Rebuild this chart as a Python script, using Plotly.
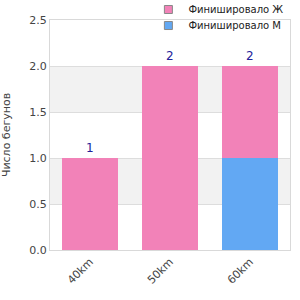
import plotly.graph_objects as go

categories = ["40km", "50km", "60km"]
women = [1, 2, 1]
men = [0, 0, 1]
totals = [1, 2, 2]
names = ["Финишировало Ж", "Финишировало М"]
pink = "#f282b8"
blue = "#62a8f3"

fig = go.Figure()
fig.add_trace(go.Bar(x=categories, y=men, marker=dict(color=blue, line_width=0), showlegend=False, width=0.71))
fig.add_trace(go.Bar(x=categories, y=women, marker=dict(color=pink, line_width=0), showlegend=False, width=0.71))
for nm, col, lg in zip(names, [pink, blue], ["legend", "legend2"]):
    fig.add_trace(go.Scatter(x=[None], y=[None], mode="markers", name=nm, legend=lg,
                             marker=dict(symbol="square", size=8, color=col,
                                         line=dict(color="#888888", width=1))))

shapes = []
for y0 in [0.5, 1.5]:
    shapes.append(dict(type="rect", xref="paper", yref="y", x0=0, x1=1, y0=y0, y1=y0 + 0.5,
                       fillcolor="#f2f2f2", line_width=0, layer="below"))
fig.update_layout(shapes=shapes)

for c, t in zip(categories, totals):
    fig.add_annotation(x=c, y=t, text=str(t), showarrow=False, yanchor="bottom", yshift=1,
                       font=dict(color="#22229a", size=12))

leg_common = dict(x=0.41, xanchor="left", yanchor="middle", bgcolor="rgba(0,0,0,0)",
                  font=dict(size=10, color="#222222"), itemwidth=30)
fig.update_layout(
    barmode="stack",
    width=300, height=300,
    margin=dict(l=50, r=10, t=20, b=50, autoexpand=False),
    paper_bgcolor="white", plot_bgcolor="white",
    font=dict(family="DejaVu Sans", size=11, color="#444444"),
    legend=dict(y=1.0457, **leg_common),
    legend2=dict(y=0.976, **leg_common),
    xaxis=dict(tickangle=-45, showline=True, linecolor="#d9d9d9", mirror=True, showgrid=False,
               ticks=""),
    yaxis=dict(range=[0, 2.5], dtick=0.5, tickformat=".1f", showline=True, linecolor="#d9d9d9",
               mirror=True, gridcolor="#dddddd", zeroline=False,
               title=dict(text="Число бегунов", font=dict(size=11), standoff=17)),
)
fig.write_html("out.html")
